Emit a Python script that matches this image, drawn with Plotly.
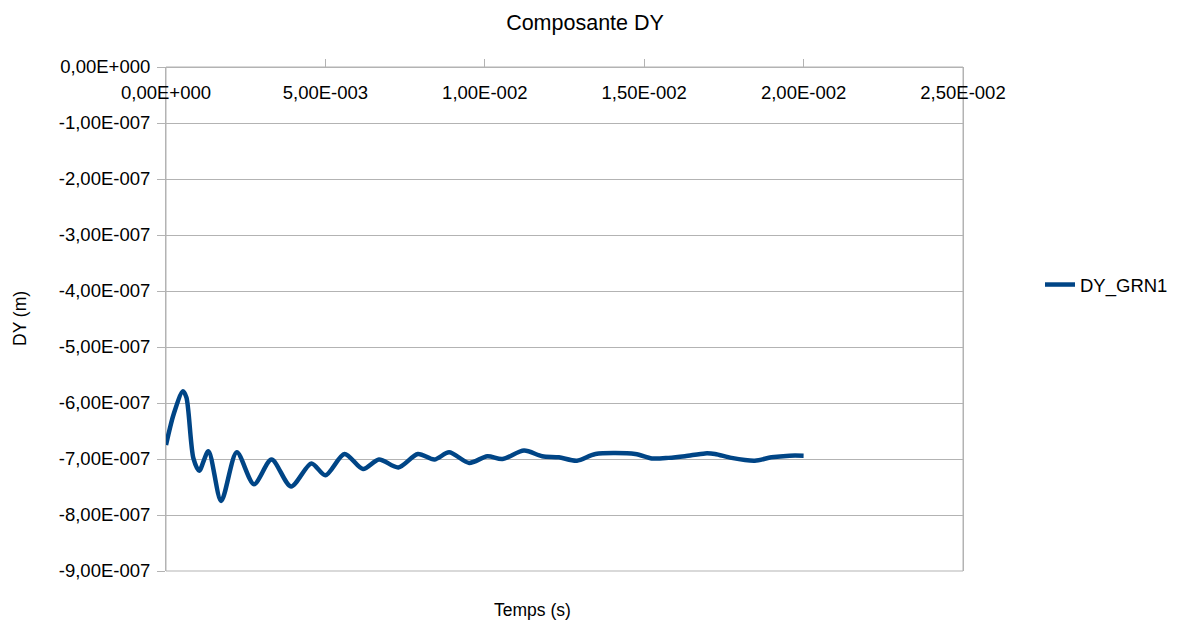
import plotly.graph_objects as go

# Time (s)
temps = [0, 0.00024, 0.00053, 0.00064, 0.00086, 0.00104, 0.00133, 0.00173, 0.00222,
         0.00276, 0.00331, 0.00392, 0.00456, 0.00500, 0.00560, 0.00618, 0.00668,
         0.00729, 0.00790, 0.00842, 0.00888, 0.00951, 0.01008, 0.01055, 0.01123,
         0.01180, 0.01232, 0.01289, 0.01347, 0.01472, 0.01524, 0.01576, 0.01628,
         0.01691, 0.01722, 0.01774, 0.01847, 0.01899, 0.01956, 0.02000]
# DY values in units of 1e-7 m
dy_e7 = [-6.75, -6.20, -5.79, -5.90, -6.99, -7.21, -6.86, -7.75, -6.88,
         -7.45, -7.01, -7.49, -7.08, -7.29, -6.91, -7.18, -7.01,
         -7.15, -6.91, -7.01, -6.88, -7.07, -6.95, -7.00, -6.85,
         -6.95, -6.97, -7.03, -6.91, -6.91, -6.99, -6.98, -6.95,
         -6.90, -6.91, -6.98, -7.03, -6.97, -6.94, -6.94]
dy = [v * 1e-7 for v in dy_e7]

x_tickvals = [0, 0.005, 0.01, 0.015, 0.02, 0.025]
x_ticktext = ["0,00E+000", "5,00E-003", "1,00E-002", "1,50E-002", "2,00E-002", "2,50E-002"]
y_tickvals = [0, -1e-7, -2e-7, -3e-7, -4e-7, -5e-7, -6e-7, -7e-7, -8e-7, -9e-7]
y_ticktext = ["0,00E+000", "-1,00E-007", "-2,00E-007", "-3,00E-007", "-4,00E-007",
              "-5,00E-007", "-6,00E-007", "-7,00E-007", "-8,00E-007", "-9,00E-007"]

FONT = "Liberation Sans, Arial, sans-serif"
GRID = "#b3b3b3"

W, H = 1172, 614
L, R, T, B = 158, 217, 59, 51
PW, PH = W - L - R, H - T - B

fig = go.Figure()
fig.add_trace(go.Scatter(
    x=temps, y=dy, mode="lines", name="DY_GRN1",
    line=dict(color="#004586", width=4.5, shape="spline", smoothing=0.8),
))

fig.update_layout(
    width=W, height=H,
    paper_bgcolor="white", plot_bgcolor="white",
    font=dict(family=FONT, size=17.5, color="black"),
    margin=dict(l=L, r=R, t=T, b=B),
    title=dict(text="Composante DY", x=577 / W, xref="container", xanchor="center",
               y=1 - 14 / H, yref="container", yanchor="middle",
               font=dict(size=21.5, color="black")),
    showlegend=True,
    legend=dict(x=1032 / W, xref="container", xanchor="left",
                y=1 - 277 / H, yref="container", yanchor="middle",
                font=dict(size=18.5, color="black"), bgcolor="rgba(0,0,0,0)"),
    xaxis=dict(
        range=[0, 0.025], side="bottom", anchor="free", position=1,
        tickvals=x_tickvals, ticktext=x_ticktext,
        ticks="inside", ticklen=8, tickcolor=GRID,
        showgrid=False, showline=True, linecolor=GRID, linewidth=1,
        zeroline=False, tickfont=dict(size=18.5, color="black"),
        ticklabelstandoff=9, automargin=False,
    ),
    yaxis=dict(
        range=[-9e-7, 0], tickvals=y_tickvals, ticktext=y_ticktext,
        ticks="outside", ticklen=8, tickcolor=GRID,
        showgrid=True, gridcolor=GRID, gridwidth=1,
        showline=True, linecolor=GRID, linewidth=1, mirror=True, zeroline=False,
        tickfont=dict(size=18.5, color="black"), ticklabelstandoff=3,
        automargin=False,
    ),
    shapes=[dict(type="rect", xref="paper", yref="paper", x0=0, x1=1, y0=0, y1=1,
                 line=dict(color=GRID, width=1), layer="below")],
    annotations=[
        dict(text="Temps (s)", x=(524 - L) / PW, y=-(602 - (H - B)) / PH,
             xref="paper", yref="paper", showarrow=False,
             xanchor="center", yanchor="middle", font=dict(size=17.5, color="black")),
        dict(text="DY (m)", x=(12 - L) / PW, y=0.5, textangle=-90,
             xref="paper", yref="paper", showarrow=False,
             xanchor="center", yanchor="middle", font=dict(size=17.5, color="black")),
    ],
)

fig.write_html("out.html")
